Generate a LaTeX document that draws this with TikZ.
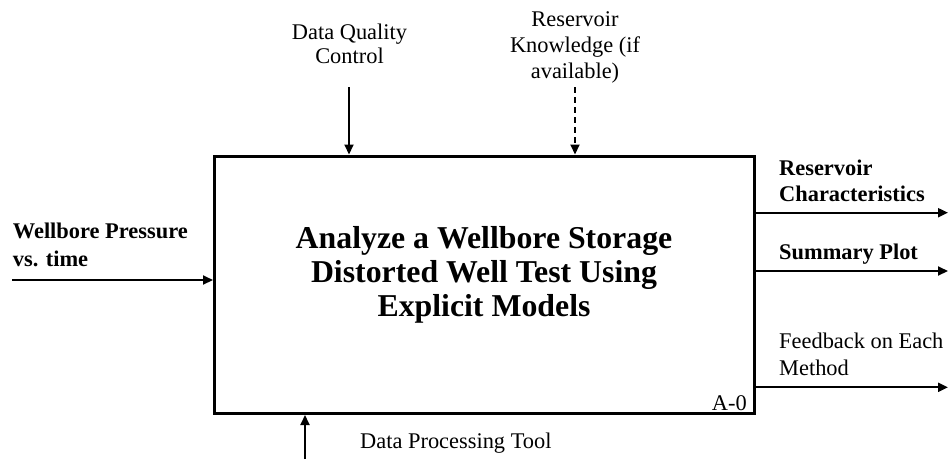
\documentclass[tikz,border=0pt]{standalone}
\usepackage{fontspec}
\setmainfont{Liberation Serif}
\usetikzlibrary{arrows.meta}
\begin{document}
\begin{tikzpicture}[x=1pt, y=-1pt,
  lbl/.style={inner sep=0pt, font=\fontsize{22.4}{26}\selectfont},
  arr/.style={line width=2pt, -{Triangle[length=10pt,width=9pt]}}]
  \useasboundingbox (0,0) rectangle (948,459);
  \node[draw, line width=3pt, inner sep=0pt, minimum width=539.5, minimum height=257.5] (fn) at (484.25,284.75) {};
  \node[inner sep=0pt, align=center, font=\fontsize{31.8}{34}\selectfont\bfseries] (title) at (484,275)
    {Analyze a Wellbore Storage\\Distorted Well Test Using\\Explicit Models};
  \node[lbl, anchor=base east] (id) at (747,410.7) {A-0};
  \coordinate (pin) at (12,280);
  \coordinate (ctl) at (349,87);
  \coordinate (know) at (575,87);
  \coordinate (tool) at (305,459);
  \coordinate (out1) at (948,212.7);
  \coordinate (out2) at (948,271);
  \coordinate (out3) at (948,387.3);
  \draw[arr] (pin) -- (pin -| fn.west);
  \draw[arr] (ctl) -- (ctl |- fn.north);
  \draw[arr, dash pattern=on 6pt off 4pt] (know) -- (know |- fn.north);
  \draw[arr] (tool) -- (tool |- fn.south);
  \draw[arr] (out1 -| fn.east) -- (out1);
  \draw[arr] (out2 -| fn.east) -- (out2);
  \draw[arr] (out3 -| fn.east) -- (out3);
  \node[lbl, anchor=base west, align=left, font=\fontsize{22.4}{28}\selectfont\bfseries] (pinlbl) at (12.7,266.7) {Wellbore Pressure\\vs. time};
  \node[lbl, anchor=base, align=center, font=\fontsize{22.4}{24}\selectfont] (ctllbl) at (349.5,63.5) {Data Quality\\Control};
  \node[lbl, anchor=base, align=center] (knowlbl) at (575,78.3) {Reservoir\\Knowledge (if\\available)};
  \node[lbl, anchor=base west] (toollbl) at (360,448) {Data Processing Tool};
  \node[lbl, anchor=base west, align=left, font=\fontsize{22.4}{26.7}\selectfont\bfseries] (out1lbl) at (779,201.7) {Reservoir\\Characteristics};
  \node[lbl, anchor=base west, font=\fontsize{22.4}{26}\selectfont\bfseries] (out2lbl) at (779,259) {Summary Plot};
  \node[lbl, anchor=base west, align=left, font=\fontsize{22.4}{26.7}\selectfont] (out3lbl) at (779,375) {Feedback on Each\\Method};
\end{tikzpicture}
\end{document}
